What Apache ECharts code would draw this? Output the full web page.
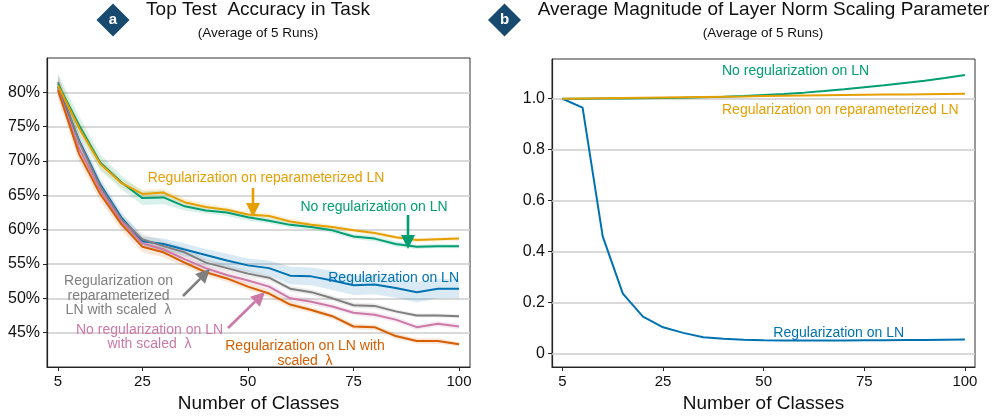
<!DOCTYPE html>
<html><head><meta charset="utf-8">
<script src="https://cdn.jsdelivr.net/npm/echarts@6/dist/echarts.min.js"></script>
<style>html,body{margin:0;padding:0;background:#fff}#c{width:996px;height:418px}</style>
</head><body><div id="c"></div>
<script>
// ---------- data: left panel (Top test accuracy, %) ----------
const classes = [5,10,15,20,25,30,35,40,45,50,55,60,65,70,75,80,85,90,95,100];
const accNoRegLN      = [81.2,75.2,69.8,66.9,64.6,64.7,63.4,62.8,62.5,61.8,61.3,60.7,60.4,59.9,59.0,58.7,57.9,57.5,57.6,57.6];
const accRegReparamLN = [81.0,74.8,69.6,66.8,65.2,65.4,64.0,63.3,62.9,62.2,62.0,61.2,60.7,60.4,59.9,59.5,58.9,58.5,58.6,58.7];
const accRegLN        = [80.8,73.0,66.6,61.8,58.3,57.9,57.1,56.3,55.5,54.8,54.4,53.3,53.2,52.6,51.9,52.0,51.5,50.9,51.4,51.4];
const accRegReparamScaled = [81.5,72.8,66.3,61.5,58.6,57.6,56.7,55.2,54.4,53.6,53.0,51.4,50.9,50.0,49.0,48.9,48.1,47.5,47.5,47.4];
const accNoRegScaled  = [80.5,71.8,65.8,61.2,58.0,57.1,55.7,54.4,53.4,52.6,51.7,50.0,49.5,48.8,47.9,47.6,46.9,45.8,46.3,45.9];
const accRegLNScaled  = [80.3,71.0,65.2,60.8,57.5,56.7,55.2,53.8,52.9,51.7,50.7,49.1,48.3,47.4,45.9,45.8,44.5,43.8,43.8,43.3];
// spread (shaded band half-widths)
const sdNoRegLN      = [1.5,1.3,1.2,1.0,1.0,1.0,0.6,0.5,0.5,0.5,0.4,0.4,0.4,0.4,0.4,0.4,0.4,0.3,0.3,0.3];
const sdRegReparamLN = [1.2,1.0,0.8,0.6,0.6,0.6,0.5,0.5,0.4,0.4,0.4,0.4,0.4,0.3,0.3,0.3,0.3,0.3,0.3,0.3];
const sdRegLN        = [1.2,1.0,0.9,0.8,0.7,0.8,0.9,0.9,1.0,1.0,1.1,1.3,1.3,1.4,1.4,1.4,1.4,1.5,1.4,1.4];
const sdRegReparamScaled = [1.2,1.0,0.8,0.7,0.8,0.8,0.7,0.6,0.5,0.5,0.4,0.4,0.4,0.4,0.4,0.4,0.3,0.3,0.3,0.3];
const sdNoRegScaled  = [1.0,0.9,0.8,0.7,0.6,0.6,0.6,0.5,0.5,0.5,0.5,0.5,0.5,0.4,0.4,0.4,0.4,0.4,0.4,0.4];
const sdRegLNScaled  = [1.2,1.1,1.0,0.9,0.8,0.7,0.6,0.5,0.5,0.5,0.5,0.5,0.4,0.4,0.4,0.4,0.4,0.4,0.4,0.3];
const leftXTicks = [5,25,50,75,100];
const leftYTicks = [45,50,55,60,65,70,75,80];

// ---------- data: right panel (LN scaling magnitude) ----------
const rightX = [0,5,10,15,20,25,30,35,40,45,50,55,60,65,70,75,80,85,90,95,100];
const magNoRegLN      = [1.0,1.0,1.001,1.001,1.002,1.003,1.004,1.006,1.008,1.011,1.015,1.019,1.024,1.030,1.037,1.045,1.053,1.062,1.071,1.081,1.093];
const magRegReparamLN = [1.0,1.001,1.002,1.003,1.004,1.005,1.006,1.007,1.008,1.009,1.011,1.012,1.013,1.014,1.015,1.016,1.017,1.017,1.018,1.019,1.020];
const magRegLN        = [1.0,0.965,0.46,0.235,0.145,0.103,0.081,0.064,0.058,0.054,0.052,0.051,0.051,0.051,0.051,0.052,0.052,0.053,0.053,0.054,0.055];
const rightXTickPos    = [0,25,50,75,100];
const rightXTickLabels = ['5','25','50','75','100'];
const rightYTicks = [0,0.2,0.4,0.6,0.8,1.0];

// ---------- styling ----------
const FF = "'Liberation Sans', Arial, Helvetica, sans-serif";
const C = {green:'#009E73', yellow:'#E69F00', blue:'#0072B2', gray:'#7F7F7F', pink:'#CC79A7', orange:'#D55E00'};

function band(mean, sd, color){
  return {type:'custom', xAxisIndex:0, yAxisIndex:0, silent:true, z:1,
    data:[[classes[0], mean[0]]],
    renderItem:function(params, api){
      const up = classes.map((c,i)=>api.coord([c, mean[i]+sd[i]]));
      const lo = classes.map((c,i)=>api.coord([c, mean[i]-sd[i]])).reverse();
      return {type:'polygon', shape:{points:up.concat(lo)}, style:{fill:color, opacity:0.15}};
    }};
}
function line(xs, ys, color, xi, extra){
  return Object.assign({type:'line', xAxisIndex:xi, yAxisIndex:xi, symbol:'none', silent:true, z:3,
    data: xs.map((x,i)=>[x, ys[i]]), lineStyle:{color:color, width:2}, itemStyle:{color:color}}, extra||{});
}
function arrow(x1,y1,x2,y2,color){
  const dx=x2-x1, dy=y2-y1, L=Math.sqrt(dx*dx+dy*dy), ux=dx/L, uy=dy/L;
  const hl=14, hw=7;
  const bx=x2-ux*hl, by=y2-uy*hl;
  return [
    {type:'line', shape:{x1:x1,y1:y1,x2:bx,y2:by}, style:{stroke:color, lineWidth:2.6}, z:10},
    {type:'polygon', shape:{points:[[x2,y2],[bx-uy*hw,by+ux*hw],[bx+uy*hw,by-ux*hw]]}, style:{fill:color}, z:10}
  ];
}
function txt(x,y,text,color,size,align,lh){
  return {type:'text', x:x, y:y, z:10, style:{text:text, fill:color, font:size+'px '+FF, align:align||'center', verticalAlign:'middle', lineHeight:lh||size+2}};
}
function badge(cx,cy,letter){
  const h=16.5;
  return [
    {type:'polygon', shape:{points:[[cx,cy-h],[cx+h,cy],[cx,cy+h],[cx-h,cy]]}, style:{fill:'#174a6e'}, z:10},
    {type:'text', x:cx, y:cy, z:11, style:{text:letter, fill:'#fff', font:'bold 15px '+FF, align:'center', verticalAlign:'middle'}}
  ];
}

const axisLineStyle = {show:true, onZero:false, lineStyle:{color:'#222', width:1.2}};
const xLabelStyle = {color:'#111', fontSize:15, fontFamily:FF};
const yLabelStyle = {color:'#111', fontSize:16, fontFamily:FF};
const nameStyle = {fontSize:19, color:'#111', fontFamily:FF};

const option = {
  animation:false,
  backgroundColor:'#fff',
  grid:[
    {left:47, top:58, width:423, height:314, show:true, borderColor:'#333', borderWidth:1},
    {left:552, top:59, width:423, height:313, show:true, borderColor:'#333', borderWidth:1}
  ],
  xAxis:[
    {type:'value', gridIndex:0, min:2.4, max:102.6, axisLine:axisLineStyle,
     axisTick:{show:true, customValues:leftXTicks, length:4, lineStyle:{color:'#222'}},
     axisLabel:Object.assign({customValues:leftXTicks, margin:7}, xLabelStyle),
     splitLine:{show:false},
     name:'Number of Classes', nameLocation:'middle', nameGap:27, nameTextStyle:nameStyle},
    {type:'value', gridIndex:1, min:-2.6, max:102.5, axisLine:axisLineStyle,
     axisTick:{show:true, customValues:rightXTickPos, length:4, lineStyle:{color:'#222'}},
     axisLabel:Object.assign({customValues:rightXTickPos, margin:7,
        formatter:function(v){const k=rightXTickPos.indexOf(v); return k>=0?rightXTickLabels[k]:'';}}, xLabelStyle),
     splitLine:{show:false},
     name:'Number of Classes', nameLocation:'middle', nameGap:27, nameTextStyle:nameStyle}
  ],
  yAxis:[
    {type:'value', gridIndex:0, min:40, max:85, interval:5, axisLine:axisLineStyle,
     axisTick:{show:true, customValues:leftYTicks, length:4, lineStyle:{color:'#222'}},
     axisLabel:Object.assign({customValues:leftYTicks, margin:7, formatter:function(v){return v+'%';}}, yLabelStyle),
     splitLine:{show:true, lineStyle:{color:'#cccccc', width:1.5}}},
    {type:'value', gridIndex:1, min:-0.053, max:1.156, axisLine:axisLineStyle,
     axisTick:{show:true, customValues:rightYTicks, length:4, lineStyle:{color:'#222'}},
     axisLabel:Object.assign({customValues:rightYTicks, margin:7, formatter:function(v){return v===0?'0':v.toFixed(1);}}, yLabelStyle),
     splitLine:{show:false}}
  ],
  series:[
    band(accRegLN, sdRegLN, C.blue),
    band(accRegReparamScaled, sdRegReparamScaled, C.gray),
    band(accNoRegScaled, sdNoRegScaled, C.pink),
    band(accRegLNScaled, sdRegLNScaled, C.orange),
    band(accNoRegLN, sdNoRegLN, C.green),
    band(accRegReparamLN, sdRegReparamLN, C.yellow),
    line(classes, accRegLN, C.blue, 0),
    line(classes, accRegReparamScaled, C.gray, 0),
    line(classes, accNoRegScaled, C.pink, 0),
    line(classes, accRegLNScaled, C.orange, 0),
    line(classes, accNoRegLN, C.green, 0),
    line(classes, accRegReparamLN, C.yellow, 0),
    line(rightX, magRegLN, C.blue, 1, {markLine:{silent:true, symbol:'none', z:1, label:{show:false},
        lineStyle:{color:'#cccccc', width:1.5, type:'solid'}, data:rightYTicks.map(v=>({yAxis:v}))}}),
    line(rightX, magNoRegLN, C.green, 1),
    line(rightX, magRegReparamLN, C.yellow, 1)
  ],
  graphic:[].concat(
    badge(113,20,'a'), badge(504.5,20,'b'),
    [txt(258,10,'Top Test  Accuracy in Task','#111',19),
     txt(258,33,'(Average of 5 Runs)','#111',13.5),
     txt(763.5,10,'Average Magnitude of Layer Norm Scaling Parameter','#111',19),
     txt(763,33,'(Average of 5 Runs)','#111',13.5),
     txt(266,178,'Regularization on reparameterized LN',C.yellow,14),
     txt(374,207,'No regularization on LN',C.green,14),
     txt(459,278,'Regularization on LN',C.blue,14,'right'),
     txt(118.5,296,'Regularization on\nreparameterized\nLN with scaled  λ',C.gray,14,'center',14.5),
     txt(149.5,337,'No regularization on LN\nwith scaled  λ',C.pink,14,'center',14),
     txt(305,354,'Regularization on LN with\nscaled  λ',C.orange,14,'center',15),
     txt(722,71,'No regularization on LN',C.green,14,'left'),
     txt(722,110,'Regularization on reparameterized LN',C.yellow,14,'left'),
     txt(838.7,333,'Regularization on LN',C.blue,14)],
    arrow(253,188,253,217,C.yellow),
    arrow(408,215,408,249,C.green),
    arrow(183,296,210,269,C.gray),
    arrow(228,328,265,292,C.pink)
  )
};
const chart = echarts.init(document.getElementById('c'), null, {renderer:'canvas'});
chart.setOption(option);
</script>
</body></html>
